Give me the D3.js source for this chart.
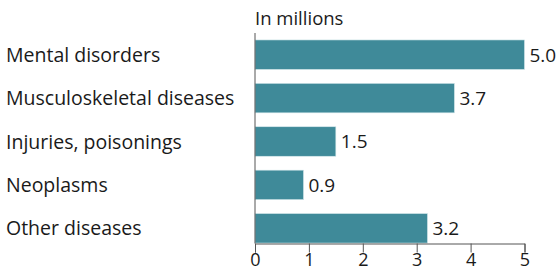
<!DOCTYPE html>
<html>
<head>
<meta charset="utf-8">
<script src="https://cdn.jsdelivr.net/npm/d3@7"></script>
<style>
  body { margin: 0; background: #fff; }
  svg text { font-family: "Open Sans", sans-serif; fill: #1a1a1a; }
</style>
</head>
<body>
<div id="chart"></div>
<script>
var categories = ["Mental disorders", "Musculoskeletal diseases", "Injuries, poisonings", "Neoplasms", "Other diseases"];
var values = [5.0, 3.7, 1.5, 0.9, 3.2];
var xTicks = [0, 1, 2, 3, 4, 5];
var unitLabel = "In millions";

var data = categories.map(function(c, i) { return {name: c, value: values[i]}; });

var width = 560, height = 273;
var x0 = 255;

var svg = d3.select("#chart")
  .append("svg")
    .attr("width", width)
    .attr("height", height);

var x = d3.scaleLinear()
  .domain([0, 5])
  .range([x0, 524.5]);

var y = d3.scaleBand()
  .domain(categories)
  .range([33, 250])
  .paddingInner(0.32)
  .paddingOuter(0.16);

// bars
svg.append("g")
  .selectAll("rect")
  .data(data)
  .enter().append("rect")
    .attr("x", x(0))
    .attr("y", function(d) { return y(d.name); })
    .attr("width", function(d) { return x(d.value) - x(0); })
    .attr("height", y.bandwidth())
    .attr("fill", "#3f8a99")
    .attr("stroke", "#d6e8ec")
    .attr("stroke-width", 0.6);

// value labels
svg.append("g")
  .selectAll("text")
  .data(data)
  .enter().append("text")
    .attr("x", function(d) { return x(d.value) + 5; })
    .attr("y", function(d) { return y(d.name) + y.bandwidth() / 2; })
    .attr("dy", "0.36em")
    .style("font-size", "19px")
    .text(function(d) { return d3.format(".1f")(d.value); });

// category labels
svg.append("g")
  .selectAll("text")
  .data(data)
  .enter().append("text")
    .attr("x", 6)
    .attr("y", function(d) { return y(d.name) + y.bandwidth() / 2; })
    .attr("dy", "0.36em")
    .style("font-size", "19.5px")
    .text(function(d) { return d.name; });

// x axis
var xAxis = svg.append("g")
  .attr("transform", "translate(0,243.5)")
  .call(d3.axisBottom(x).tickValues(xTicks).tickSize(9).tickFormat(d3.format("d")));
xAxis.select(".domain").attr("stroke", "#555");
xAxis.selectAll(".tick line").attr("stroke", "#555");
xAxis.selectAll("text")
  .style("font-size", "18px")
  .attr("fill", "#1a1a1a")
  .attr("y", 10);

// vertical baseline
svg.append("line")
  .attr("x1", x(0)).attr("x2", x(0))
  .attr("y1", 33).attr("y2", 243.5)
  .attr("stroke", "#555");

svg.append("text")
  .attr("x", x0)
  .attr("y", 25)
  .style("font-size", "18.5px")
  .text(unitLabel);
</script>
</body>
</html>
